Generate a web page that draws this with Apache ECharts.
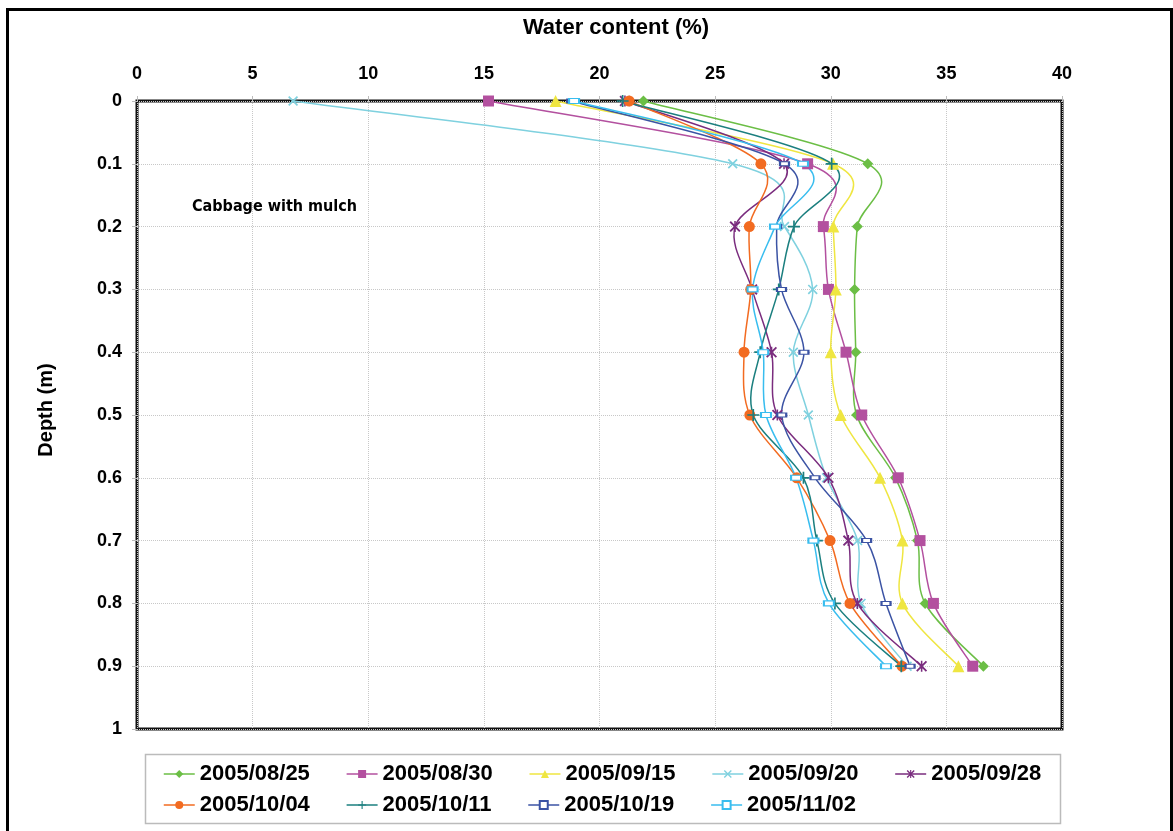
<!DOCTYPE html>
<html>
<head>
<meta charset="utf-8">
<script src="https://cdn.jsdelivr.net/npm/echarts@6/dist/echarts.min.js"></script>
<style>
html,body{margin:0;padding:0;background:#fff;}
#chart{width:1173px;height:831px;}
</style>
</head>
<body>
<div id="chart"></div>
<script>
// ---- data ----
const depths = [0, 0.1, 0.2, 0.3, 0.4, 0.5, 0.6, 0.7, 0.8, 0.9];
const seriesNames = ['2005/08/25','2005/08/30','2005/09/15','2005/09/20','2005/09/28','2005/10/04','2005/10/11','2005/10/19','2005/11/02'];
const s0825 = [21.9, 31.6, 31.15, 31.03, 31.08, 31.12, 32.8, 33.75, 34.08, 36.6];
const s0830 = [15.2, 29.0, 29.68, 29.9, 30.66, 31.34, 32.92, 33.86, 34.44, 36.14];
const s0915 = [18.1, 30.1, 30.11, 30.22, 30.0, 30.43, 32.13, 33.1, 33.1, 35.52];
const s0920 = [6.75, 25.76, 28.0, 29.22, 28.38, 29.03, 29.82, 31.16, 31.31, 33.3];
const s0928 = [21.1, 27.98, 25.86, 26.6, 27.44, 27.69, 29.9, 30.76, 31.15, 33.93];
const s1004 = [21.28, 26.98, 26.48, 26.54, 26.25, 26.5, 28.53, 29.97, 30.83, 33.08];
const s1011 = [21.0, 30.04, 28.41, 27.75, 26.95, 26.65, 28.82, 29.4, 30.18, 33.05];
const s1019 = [18.8, 28.0, 27.66, 27.87, 28.84, 27.88, 29.32, 31.55, 32.39, 33.43];
const s1102 = [18.9, 28.8, 27.59, 26.62, 27.08, 27.2, 28.5, 29.25, 29.92, 32.39];
const xTicks = ['0','5','10','15','20','25','30','35','40'];
const allValues = [s0825, s0830, s0915, s0920, s0928, s1004, s1011, s1019, s1102];

// ---- styling ----
const colors = ['#6BBE45','#B3509F','#EFE641','#7FD1DF','#7A2C7E','#F26B21','#1B7F7F','#3B53A4','#38BDEF'];
const xPath = 'path://M0,1.2 L1.2,0 L10,8.8 L8.8,10 Z M8.8,0 L10,1.2 L1.2,10 L0,8.8 Z';
const plusPath = 'path://M4.3,0 L5.7,0 L5.7,4.3 L10,4.3 L10,5.7 L5.7,5.7 L5.7,10 L4.3,10 L4.3,5.7 L0,5.7 L0,4.3 L4.3,4.3 Z';
const starPath = 'path://M0,1.2 L1.2,0 L10,8.8 L8.8,10 Z M8.8,0 L10,1.2 L1.2,10 L0,8.8 Z M4.3,0 L5.7,0 L5.7,10 L4.3,10 Z';
const symbols = ['diamond','rect','triangle',xPath,starPath,'circle',plusPath,'rect','rect'];
const symSizes = [11, 11, 12, 10, 11, 11, 12, [9,4], [10,5]];
const FONT = '"Liberation Sans", Arial, sans-serif';
const COND = '"DejaVu Sans Condensed", "Liberation Sans", sans-serif';

// smoothed curve (Catmull-Rom style bezier in pixel space, through the axis scales)
function curveSeries(vals, color) {
  const pts = vals.map((v, k) => [v, depths[k]]);
  return {
    type: 'custom',
    coordinateSystem: 'cartesian2d',
    data: pts,
    clip: false,
    silent: true,
    z: 1,
    encode: { x: 0, y: 1 },
    renderItem: function (params, api) {
      const i = params.dataIndex;
      if (i >= pts.length - 1) return null;
      const P = (k) => api.coord(pts[Math.max(0, Math.min(pts.length - 1, k))]);
      const p0 = P(i - 1), p1 = P(i), p2 = P(i + 1), p3 = P(i + 2);
      const t = 1 / 6;
      return {
        type: 'bezierCurve',
        shape: {
          x1: p1[0], y1: p1[1], x2: p2[0], y2: p2[1],
          cpx1: p1[0] + (p2[0] - p0[0]) * t, cpy1: p1[1] + (p2[1] - p0[1]) * t,
          cpx2: p2[0] - (p3[0] - p1[0]) * t, cpy2: p2[1] - (p3[1] - p1[1]) * t
        },
        style: { stroke: color, lineWidth: 1.5, fill: null }
      };
    }
  };
}

const markerSeries = allValues.map((vals, i) => {
  const hollow = (i === 7 || i === 8);
  return {
    name: seriesNames[i],
    type: 'line',
    data: vals.map((v, k) => [v, depths[k]]),
    symbol: symbols[i],
    symbolSize: symSizes[i],
    showAllSymbol: true,
    clip: false,
    lineStyle: { color: colors[i], width: 1.5, opacity: 0 },
    itemStyle: hollow ? { color: '#ffffff', borderColor: colors[i], borderWidth: 1.5 } : { color: colors[i], borderWidth: 0 },
    emphasis: { disabled: true },
    z: 2 + i
  };
});
const curves = allValues.map((vals, i) => curveSeries(vals, colors[i]));

const legendCommon = {
  orient: 'horizontal',
  width: 1000,
  itemWidth: 31,
  itemHeight: 10,
  itemGap: 36,
  lineStyle: { opacity: 1, width: 1.5 },
  textStyle: { fontFamily: FONT, fontWeight: 'bold', fontSize: 22, color: '#000' },
  selectedMode: false
};

const chart = echarts.init(document.getElementById('chart'), null, { renderer: 'canvas' });
chart.setOption({
  animation: false,
  backgroundColor: '#ffffff',
  color: colors,
  grid: { left: 137, top: 101, width: 925, height: 628, show: true, borderColor: '#111', borderWidth: 3, backgroundColor: 'transparent' },
  xAxis: {
    type: 'value',
    position: 'top',
    min: 0, max: 40, interval: 5,
    axisLine: { show: false },
    axisTick: { show: true, length: 5, lineStyle: { color: '#bbb' } },
    axisLabel: { margin: 18, fontFamily: FONT, fontWeight: 'bold', fontSize: 18, color: '#000', formatter: (v) => xTicks[Math.round(v / 5)] },
    splitLine: { show: true, lineStyle: { color: '#c8c8c8', type: 'dotted', width: 1 } }
  },
  yAxis: {
    type: 'value',
    inverse: true,
    min: 0, max: 1, interval: 0.1,
    axisLine: { show: false },
    axisTick: { show: true, length: 5, lineStyle: { color: '#bbb' } },
    axisLabel: { margin: 15, fontFamily: FONT, fontWeight: 'bold', fontSize: 18, color: '#000',
      formatter: (v) => String(Math.round(v * 10) / 10) },
    splitLine: { show: true, lineStyle: { color: '#c8c8c8', type: 'dotted', width: 1 } }
  },
  legend: [
    Object.assign({}, legendCommon, { data: seriesNames.slice(0, 5), left: 158, top: 758 }),
    Object.assign({}, legendCommon, { data: seriesNames.slice(5), left: 158, top: 789 })
  ],
  graphic: [
    { type: 'rect', left: 5, top: 7, shape: { width: 1164, height: 840 }, style: { fill: 'none', stroke: '#000', lineWidth: 3 }, silent: true, z: 100 },
    { type: 'rect', left: 143, top: 752, shape: { width: 915, height: 69 }, style: { fill: 'none', stroke: '#bbb', lineWidth: 1.5 }, silent: true },
    { type: 'text', x: 616, y: 28, style: { text: 'Water content (%)', font: 'bold 22px ' + FONT, fill: '#000', textAlign: 'center', textVerticalAlign: 'middle' } },
    { type: 'text', x: 46, y: 410, rotation: Math.PI / 2, style: { text: 'Depth (m)', font: 'bold 20px ' + FONT, fill: '#000', textAlign: 'center', textVerticalAlign: 'middle' } },
    { type: 'text', x: 192, y: 207, style: { text: 'Cabbage with mulch', font: 'bold 16px ' + COND, fill: '#000', textAlign: 'left', textVerticalAlign: 'middle' } }
  ],
  series: curves.concat(markerSeries)
});
</script>
</body>
</html>
